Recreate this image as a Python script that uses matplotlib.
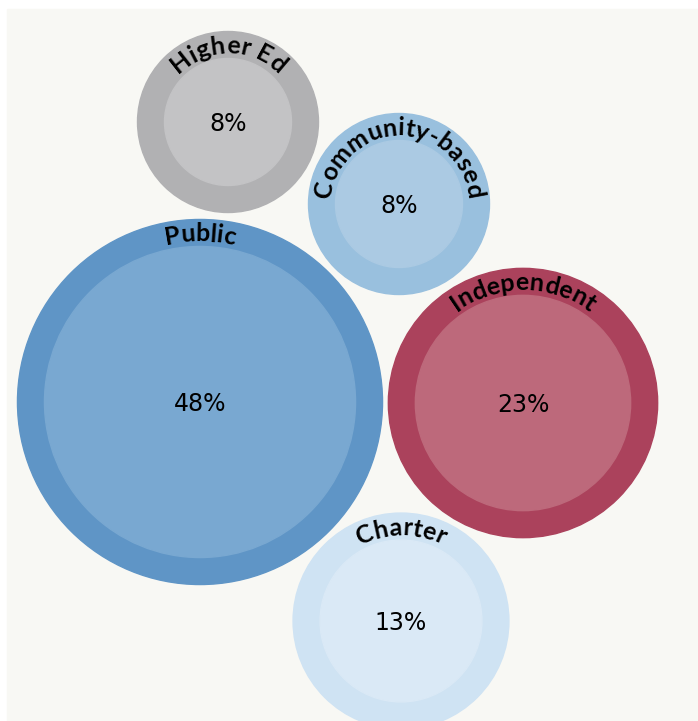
import numpy as np
import matplotlib
matplotlib.use("Agg")
import matplotlib.pyplot as plt
from matplotlib.patches import Circle, Rectangle
from matplotlib.font_manager import FontProperties

# data
categories = ["Higher Ed", "Community-based", "Public", "Independent", "Charter"]
shares = [8, 8, 48, 23, 13]

# layout (pixel positions from the bubble packing) and styles
centers = [(228, 122), (399, 204), (200, 402), (523, 403), (401, 621)]
ring_colors = ["#b1b1b3", "#99c0de", "#5f95c6", "#ab425c", "#cfe3f3"]
fill_colors = ["#c3c3c5", "#abcae3", "#79a8d1", "#bd697b", "#dae9f6"]
scale = 22.45   # inner radius = scale * sqrt(share)
ring = 27

W, H = 698, 721
fig = plt.figure(figsize=(W / 100, H / 100), dpi=100, facecolor="white")
ax = fig.add_axes([0, 0, 1, 1])
ax.set_xlim(0, W)
ax.set_ylim(H, 0)
ax.axis("off")

ax.add_patch(Rectangle((7, 9), W - 7, H - 9, color="#f8f8f4", zorder=0))

label_fp = FontProperties(family=["Lato", "DejaVu Sans"], weight="bold", size=18)
renderer = fig.canvas.get_renderer()


def text_w(s):
    w, _, _ = renderer.get_text_width_height_descent(s, label_fp, ismath=False)
    return w


def arc_text(cx, cy, r, s, track=1.0):
    # cumulative advance of each prefix, spaces measured between letters
    adv = []
    for i in range(len(s) + 1):
        adv.append((text_w("a" + s[:i] + "a") - text_w("aa")) * track)
    total = adv[-1]
    start = np.pi / 2 + total / (2 * r)
    for i, ch in enumerate(s):
        if ch == " ":
            continue
        mid = (adv[i] + adv[i + 1]) / 2
        th = start - mid / r
        x = cx + r * np.cos(th)
        y = cy - r * np.sin(th)
        ax.text(x, y, ch, fontproperties=label_fp, ha="center", va="baseline",
                rotation=np.degrees(th) - 90, rotation_mode="anchor", zorder=5)


for name, p, (cx, cy), rc, fc in zip(categories, shares, centers, ring_colors, fill_colors):
    r_in = scale * np.sqrt(p)
    ax.add_patch(Circle((cx, cy), r_in + ring, color=rc, zorder=2))
    ax.add_patch(Circle((cx, cy), r_in, color=fc, zorder=3))
    ax.text(cx, cy + 2, f"{p}%", ha="center", va="center", fontsize=17,
            family="DejaVu Sans", zorder=5)
    arc_text(cx, cy, r_in + 5, name)

fig.savefig("out.png", dpi=100, facecolor="white")
